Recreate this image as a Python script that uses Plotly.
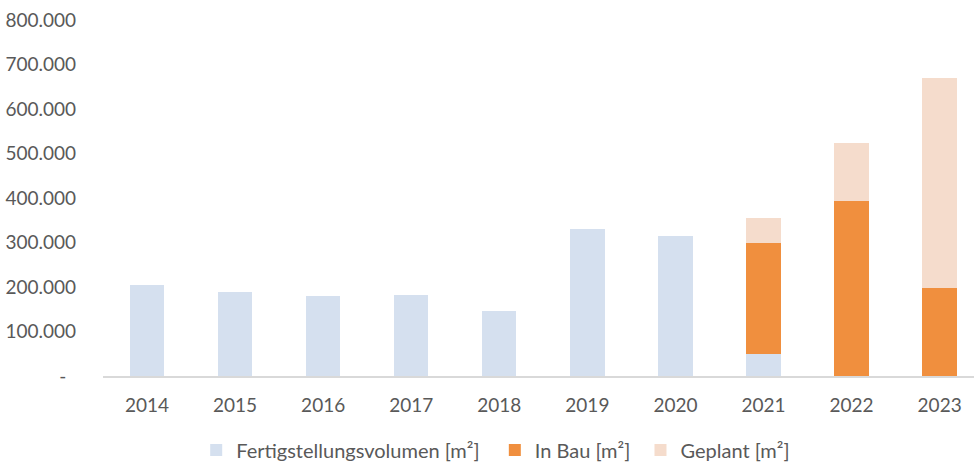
import plotly.graph_objects as go

years = ["2014", "2015", "2016", "2017", "2018", "2019", "2020", "2021", "2022", "2023"]
fertig = [205000, 189000, 179000, 182000, 146000, 330000, 315000, 50000, None, None]
in_bau = [None, None, None, None, None, None, None, 250000, 394000, 198000]
geplant = [None, None, None, None, None, None, None, 55000, 130000, 472000]

tick_vals = [0, 100000, 200000, 300000, 400000, 500000, 600000, 700000, 800000]
tick_text = ["-\u00a0\u00a0", "100.000", "200.000", "300.000", "400.000", "500.000", "600.000", "700.000", "800.000"]

font = dict(family="Lato, 'Open Sans', sans-serif", size=19, color="#595959")
lfont = dict(family="Lato, 'Open Sans', sans-serif", size=20, color="#595959")

fig = go.Figure()
fig.add_trace(go.Bar(x=years, y=fertig, name="Fertigstellungsvolumen [m²]\u00a0\u00a0", marker=dict(color="#D5E0EF", line=dict(width=0))))
fig.add_trace(go.Bar(x=years, y=in_bau, name="In Bau [m²]\u00a0", marker=dict(color="#F08F3E", line=dict(width=0))))
fig.add_trace(go.Bar(x=years, y=geplant, name="Geplant [m²]", marker=dict(color="#F5DCCC", line=dict(width=0))))

fig.update_layout(
    width=974, height=463,
    barmode="stack", bargap=0.61,
    margin=dict(l=103, r=0, t=20, b=87, autoexpand=False),
    plot_bgcolor="white", paper_bgcolor="white",
    font=font,
    showlegend=True,
    legend=dict(orientation="h", x=0.107, xanchor="left", y=-0.153, yanchor="top",
                font=lfont, itemwidth=30, traceorder="normal"),
    xaxis=dict(type="category", range=[-0.5, 9.39], showline=True, linecolor="#D9D9D9", linewidth=2,
               ticks="", showgrid=False, tickfont=font, automargin=False, ticklabelstandoff=11),
    yaxis=dict(range=[0, 800000], tickvals=tick_vals, ticktext=tick_text, showgrid=False,
               zeroline=False, showline=False, ticks="", tickfont=font, ticklabelstandoff=26,
               automargin=False, ticklabeloverflow="allow"),
)

fig.write_html("out.html", config={"displayModeBar": False},
               post_script="document.body.style.margin='0px';")
